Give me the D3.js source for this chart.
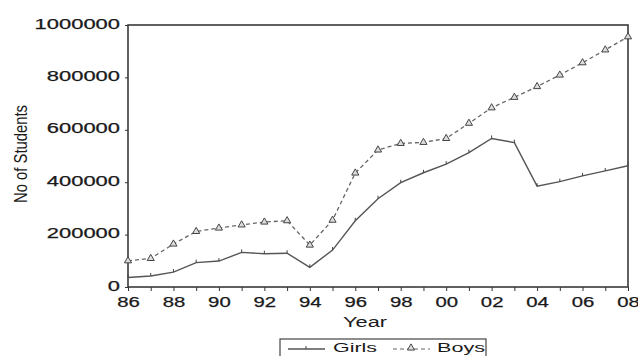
<!DOCTYPE html>
<html>
<head>
<meta charset="utf-8">
<script src="https://cdn.jsdelivr.net/npm/d3@7"></script>
<style>
  html, body { margin: 0; padding: 0; background: #fff; }
  svg { display: block; }
  text { font-family: "Liberation Sans", Arial, sans-serif; fill: #1a1a1a; }
</style>
</head>
<body>
<svg id="chart" width="638" height="356"></svg>
<script>
// Enrolment by year (1986-2008)
const years = [1986, 1987, 1988, 1989, 1990, 1991, 1992, 1993, 1994, 1995, 1996,
               1997, 1998, 1999, 2000, 2001, 2002, 2003, 2004, 2005, 2006, 2007, 2008];
const girls = [36000, 42000, 57000, 93000, 99000, 132000, 127000, 129000, 75000, 141000, 253000,
               337000, 398000, 436000, 469000, 513000, 567000, 551000, 385000, 402000, 424000, 443000, 463000];
const boys  = [100000, 109000, 164000, 212000, 225000, 237000, 248000, 253000, 160000, 255000, 435000,
               523000, 548000, 552000, 567000, 625000, 684000, 724000, 765000, 809000, 856000, 905000, 955000];
const yTicks = [0, 200000, 400000, 600000, 800000, 1000000];
const xLabelYears = [1986, 1988, 1990, 1992, 1994, 1996, 1998, 2000, 2002, 2004, 2006, 2008];

const svg = d3.select("#chart");
const plotL = 128, plotR = 628, plotT = 25, plotB = 287;
const stretch = 1.5;   // wide lettering

const x = d3.scaleLinear().domain([1986, 2008]).range([plotL, plotR]);
const y = d3.scaleLinear().domain([0, 1000000]).range([plotB, plotT]);

// horizontally widened label helper
function wide(sel, px) {
  sel.each(function () {
    const t = d3.select(this);
    const n = t.text().length;
    t.attr("textLength", n * px).attr("lengthAdjust", "spacingAndGlyphs");
  });
}

// y axis
const yAxis = svg.append("g")
  .attr("transform", `translate(${plotL},0)`)
  .call(d3.axisLeft(y).tickValues(yTicks).tickFormat(d3.format("d")).tickSize(3).tickPadding(3));
yAxis.select(".domain").remove();
yAxis.selectAll("line").attr("stroke", "#333");
yAxis.selectAll("text")
  .attr("font-size", 14).attr("dy", "0.22em").attr("x", -8)
  .attr("stroke", "#1a1a1a").attr("stroke-width", 0.25)
  .call(wide, 12.2);

// x axis
const xAxis = svg.append("g")
  .attr("transform", `translate(0,${plotB})`)
  .call(d3.axisBottom(x).tickValues(years)
    .tickFormat(d => xLabelYears.includes(d) ? String(d % 100).padStart(2, "0") : "")
    .tickSize(4).tickSizeOuter(0).tickPadding(6));
xAxis.select(".domain").remove();
xAxis.selectAll("line").attr("stroke", "#333");
xAxis.selectAll("text").attr("font-size", 14)
  .attr("stroke", "#1a1a1a").attr("stroke-width", 0.25)
  .filter(function () { return this.textContent; })
  .call(wide, 11.3);

// plot frame
svg.append("rect")
  .attr("x", plotL).attr("y", plotT)
  .attr("width", plotR - plotL).attr("height", plotB - plotT)
  .attr("fill", "none").attr("stroke", "#3a3a3a").attr("stroke-width", 1.6);

// series lines
const line = d3.line().x((d, i) => x(years[i])).y(d => y(d));

svg.append("path").datum(girls)
  .attr("d", line).attr("fill", "none")
  .attr("stroke", "#555").attr("stroke-width", 1.4);

svg.append("path").datum(boys)
  .attr("d", line).attr("fill", "none")
  .attr("stroke", "#666").attr("stroke-width", 1.3).attr("stroke-dasharray", "4,3");

// girls markers: short vertical ticks
svg.append("g").selectAll("line").data(girls).join("line")
  .attr("x1", (d, i) => x(years[i])).attr("x2", (d, i) => x(years[i]))
  .attr("y1", d => y(d) - 3).attr("y2", d => y(d))
  .attr("stroke", "#444").attr("stroke-width", 1);

// boys markers: open triangles
const tri = d3.symbol().type(d3.symbolTriangle).size(22);
svg.append("g").selectAll("path").data(boys).join("path")
  .attr("d", tri)
  .attr("transform", (d, i) => `translate(${x(years[i])},${y(d)})`)
  .attr("fill", "#ddd").attr("stroke", "#444").attr("stroke-width", 1);

// axis titles
svg.append("text")
  .attr("x", 365).attr("y", 327)
  .attr("text-anchor", "middle").attr("font-size", 14)
  .attr("textLength", 44).attr("lengthAdjust", "spacingAndGlyphs")
  .text("Year");

svg.append("text")
  .attr("transform", `translate(27,154) scale(${stretch},1) rotate(-90)`)
  .attr("text-anchor", "middle").attr("font-size", 12)
  .attr("textLength", 98).attr("lengthAdjust", "spacingAndGlyphs")
  .text("No of Students");

// legend
const lg = svg.append("g");
lg.append("rect")
  .attr("x", 280).attr("y", 339).attr("width", 206).attr("height", 30)
  .attr("fill", "#fff").attr("stroke", "#444").attr("stroke-width", 1.2);
lg.append("line").attr("x1", 288).attr("x2", 325).attr("y1", 349).attr("y2", 349)
  .attr("stroke", "#555").attr("stroke-width", 1.3);
lg.append("line").attr("x1", 306).attr("x2", 306).attr("y1", 346).attr("y2", 349)
  .attr("stroke", "#444");
lg.append("text").attr("x", 333).attr("y", 352).attr("font-size", 13)
  .attr("textLength", 44).attr("lengthAdjust", "spacingAndGlyphs").text("Girls");
lg.append("line").attr("x1", 393).attr("x2", 430).attr("y1", 349).attr("y2", 349)
  .attr("stroke", "#666").attr("stroke-width", 1.2).attr("stroke-dasharray", "4,3");
lg.append("path").attr("d", tri).attr("transform", "translate(411,348)")
  .attr("fill", "#ddd").attr("stroke", "#444");
lg.append("text").attr("x", 437).attr("y", 352).attr("font-size", 13)
  .attr("textLength", 48).attr("lengthAdjust", "spacingAndGlyphs").text("Boys");
</script>
</body>
</html>
